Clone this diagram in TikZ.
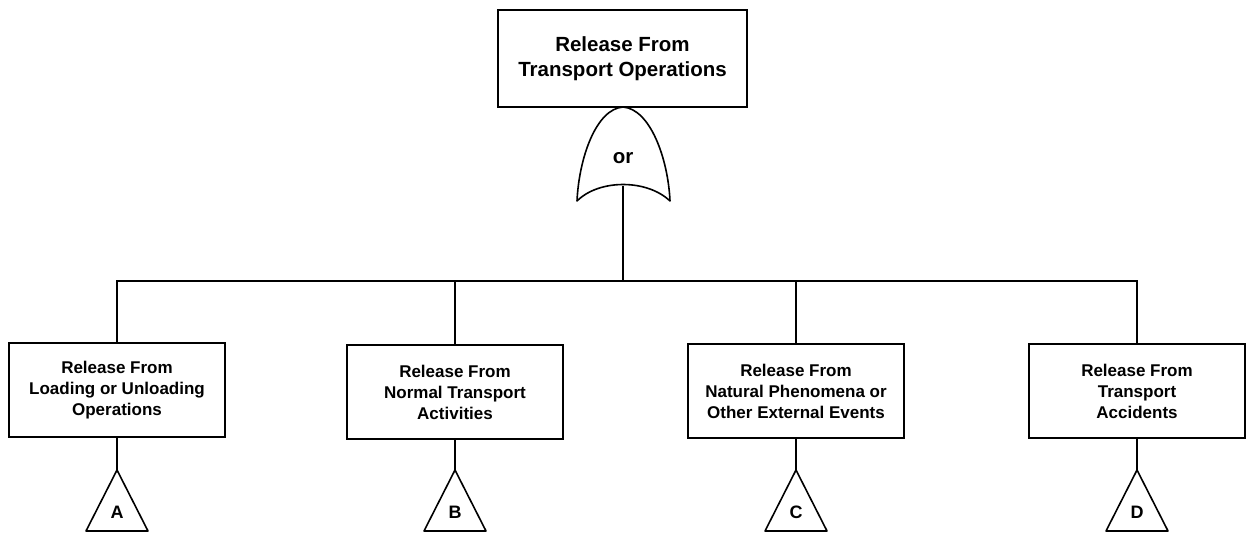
\documentclass[tikz,border=0pt]{standalone}
\usepackage{fontspec}
\setmainfont{Liberation Sans}
\usetikzlibrary{positioning}

\begin{document}
\begin{tikzpicture}[x=1pt,y=-1pt]
\tikzset{topevent/.style = {draw,line width=1.6pt,minimum width=249pt,minimum height=97pt,align=center,font=\fontsize{20.5}{25}\selectfont\bfseries}}
\tikzset{event/.style = {draw,line width=1.6pt,minimum width=216pt,minimum height=94pt,align=center,font=\fontsize{17}{21}\selectfont\bfseries}}
\tikzset{letter/.style = {font=\fontsize{18}{20}\selectfont\bfseries}}
\tikzset{wire/.style = {line width=1.6pt}}

\useasboundingbox (0,0) rectangle (1246,533);

% events

\node[topevent] (top) at (622.5,58.5) {Release From\\Transport Operations};

\node[event] (boxa) at (117,390) {Release From\\Loading or Unloading\\Operations};
\node[event] (boxb) at (455,392) {Release From\\Normal Transport\\Activities};
\node[event] (boxc) at (796,391) {Release From\\Natural Phenomena or\\Other External Events};
\node[event] (boxd) at (1137,391) {Release From\\Transport\\Accidents};

% or gate

\coordinate (gatetop) at (623,107);
\coordinate (gatebase) at (623,186);
\node[font=\fontsize{20.5}{25}\selectfont\bfseries] (orlabel) at (623,158) {or};
\draw[wire,line join=round] (gatetop) .. controls (596,109) and (579,158) .. (577,201)
  .. controls (599,179) and (647,179) .. (670,201)
  .. controls (668,158) and (650,109) .. (gatetop);

% edges

\coordinate (bus) at (623,281);
\draw[wire] (gatebase) -- (bus);
\foreach \n in {a,b,c,d}
  \draw[wire] (box\n.north) |- (bus);

% transfer triangles

\foreach \n/\x/\l in {a/117/A, b/455/B, c/796/C, d/1137/D} {
  \coordinate (apex\n) at (\x,470);
  \node[letter] (tri\n) at (\x,512) {\l};
  \draw[wire,line join=round] (apex\n) -- ++(-31,61) -- ++(62,0) -- cycle;
  \draw[wire] (box\n.south) -- (apex\n);
}
\end{tikzpicture}
\end{document}
